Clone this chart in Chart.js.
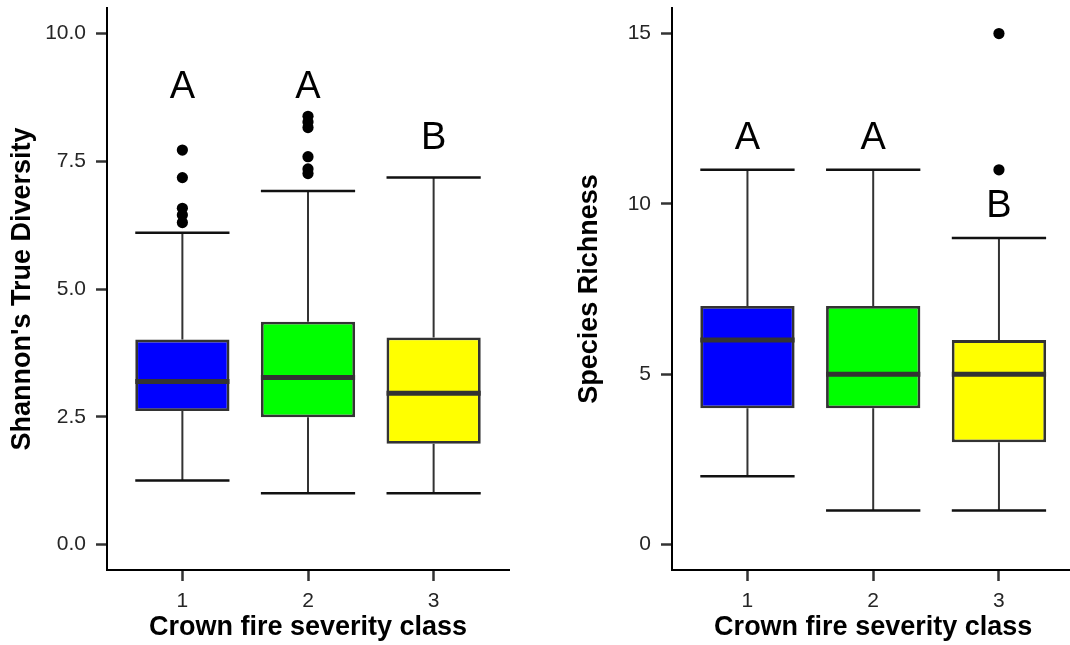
<!DOCTYPE html>
<html>
<head>
<meta charset="utf-8">
<script src="https://cdn.jsdelivr.net/npm/chart.js@4.4.1/dist/chart.umd.min.js"></script>
<style>
  html, body { margin: 0; padding: 0; background: #fff; width: 1070px; height: 645px; overflow: hidden; }
  .panel { position: absolute; top: 0; }
  #panelLeft { left: 0; }
  #panelRight { left: 535px; }
</style>
</head>
<body>
<div class="panel" id="panelLeft"><canvas id="shannon" width="535" height="645"></canvas></div>
<div class="panel" id="panelRight"><canvas id="richness" width="545" height="645"></canvas></div>
<script>
// Crown fire severity classes (x positions)
const classes = [1, 2, 3];
const classLabels = ['1', '2', '3'];
const boxFills = ['#0000FF', '#00FF00', '#FFFF00'];

// Shannon's true diversity: five-number summaries per class
const shLow    = [1.25, 1.00, 1.00];
const shQ1     = [2.61, 2.49, 1.97];
const shMedian = [3.19, 3.27, 2.96];
const shQ3     = [4.01, 4.36, 4.05];
const shHigh   = [6.10, 6.92, 7.18];
const shOutliers = [
  [7.72, 7.18, 6.58, 6.45, 6.30],
  [8.38, 8.27, 8.16, 7.59, 7.35, 7.26],
  []
];
const shLetters  = ['A', 'A', 'B'];
const shLetterAt = [9.0, 9.0, 8.0];
const shTicks      = [0, 2.5, 5, 7.5, 10];
const shTickLabels = ['0.0', '2.5', '5.0', '7.5', '10.0'];

// Species richness: five-number summaries per class
const spLow    = [2, 1, 1];
const spQ1     = [4, 4, 3];
const spMedian = [6, 5, 5];
const spQ3     = [7, 7, 6];
const spHigh   = [11, 11, 9];
const spOutliers = [[], [], [11, 15]];
const spLetters  = ['A', 'A', 'B'];
const spLetterAt = [12, 12, 10];
const spTicks      = [0, 5, 10, 15];
const spTickLabels = ['0', '5', '10', '15'];

const FONT = '"Liberation Sans", Arial, Helvetica, sans-serif';
const HALF = 0.375; // half of the box width, in x units
const LETTER_SIZE = 38;

// draws the significance letters above each box, centred on their value
const letterPlugin = {
  id: 'groupLetters',
  afterDatasetsDraw(chart, args, opts) {
    const { ctx } = chart;
    const xs = chart.scales.x, ys = chart.scales.y;
    ctx.save();
    ctx.font = LETTER_SIZE + 'px ' + FONT;
    ctx.fillStyle = '#000';
    ctx.textAlign = 'center';
    ctx.textBaseline = 'alphabetic';
    const halfCap = LETTER_SIZE * 0.358;
    opts.letters.forEach((t, i) => {
      ctx.fillText(t, xs.getPixelForValue(classes[i]), ys.getPixelForValue(opts.at[i]) + halfCap);
    });
    ctx.restore();
  }
};

// list of line segments separated by gaps
function segments(list) {
  const out = [];
  list.forEach(([x1, y1, x2, y2]) => {
    out.push({ x: x1, y: y1 }, { x: x2, y: y2 }, { x: x2, y: null });
  });
  return out;
}

// keep the axis from reserving room for overhanging edge labels
function noEdgePadding(sc) {
  sc.paddingTop = 0; sc.paddingBottom = 0; sc.paddingLeft = 0; sc.paddingRight = 0;
}

function boxplotChart(canvasId, s) {
  const whiskers = segments(classes.flatMap((c, i) => [
    [c, s.low[i], c, s.q1[i]],
    [c, s.q3[i], c, s.high[i]]
  ]));
  const caps = segments(classes.flatMap((c, i) => [
    [c - HALF, s.low[i], c + HALF, s.low[i]],
    [c - HALF, s.high[i], c + HALF, s.high[i]]
  ]));
  const medians = segments(classes.map((c, i) => [c - HALF, s.median[i], c + HALF, s.median[i]]));
  const outliers = classes.flatMap((c, i) => s.outliers[i].map(v => ({ x: c, y: v })));

  const lineDs = (data, color, width, order) => ({
    type: 'line', data, borderColor: color, borderWidth: width, pointRadius: 0,
    pointHoverRadius: 0, fill: false, tension: 0, spanGaps: false,
    borderCapStyle: 'butt', order
  });

  return new Chart(document.getElementById(canvasId), {
    type: 'bar',
    data: {
      datasets: [
        lineDs(whiskers, '#333333', 2, 5),
        lineDs(caps, '#111111', 2.5, 4),
        {
          type: 'bar',
          data: classes.map((c, i) => ({ x: c, y: [s.q1[i], s.q3[i]] })),
          backgroundColor: boxFills,
          borderColor: '#333333',
          borderWidth: 2.8,
          borderSkipped: false,
          categoryPercentage: 0.75,
          barPercentage: 1,
          order: 3
        },
        lineDs(medians, '#333333', 5, 2),
        {
          type: 'scatter',
          data: outliers,
          backgroundColor: '#000',
          borderWidth: 0,
          pointRadius: 5.6,
          pointHoverRadius: 5.6,
          order: 1
        }
      ]
    },
    options: {
      responsive: false,
      animation: false,
      events: [],
      layout: { padding: s.padding },
      plugins: {
        legend: { display: false },
        tooltip: { enabled: false },
        groupLetters: { letters: s.letters, at: s.letterAt }
      },
      scales: {
        x: {
          type: 'linear', min: 0.4, max: 3.6, offset: false,
          afterBuildTicks: sc => { sc.ticks = classes.map(v => ({ value: v })); },
          afterFit: sc => { sc.height = s.xAxisHeight; noEdgePadding(sc); },
          border: { display: true, color: '#000', width: 2 },
          grid: { offset: false, drawOnChartArea: false, drawTicks: true, tickLength: 11, tickColor: '#333', tickWidth: 2.5 },
          ticks: {
            color: '#262626', padding: 8, maxRotation: 0, autoSkip: false,
            font: { size: 21, family: FONT },
            callback: v => classLabels[classes.indexOf(v)]
          },
          title: {
            display: true, text: 'Crown fire severity class', color: '#000',
            font: { size: 27, weight: 'bold', family: FONT, lineHeight: 1.2 },
            padding: { top: 0, bottom: 1.5 }
          }
        },
        y: {
          type: 'linear', min: s.yMin, max: s.yMax,
          afterBuildTicks: sc => { sc.ticks = s.ticks.map(v => ({ value: v })); },
          afterFit: sc => { sc.width = s.yAxisWidth; noEdgePadding(sc); },
          border: { display: true, color: '#000', width: 2 },
          grid: { drawOnChartArea: false, drawTicks: true, tickLength: 11, tickColor: '#333', tickWidth: 2.5 },
          ticks: {
            color: '#262626', padding: 10, autoSkip: false,
            font: { size: 21, family: FONT },
            callback: v => s.tickLabels[s.ticks.indexOf(v)]
          },
          title: {
            display: true, text: s.title, color: '#000',
            font: { size: 27, weight: 'bold', family: FONT, lineHeight: 1.2 },
            padding: { top: s.titlePad, bottom: 0 }
          }
        }
      }
    },
    plugins: [letterPlugin]
  });
}

boxplotChart('shannon', {
  low: shLow, q1: shQ1, median: shMedian, q3: shQ3, high: shHigh, outliers: shOutliers,
  letters: shLetters, letterAt: shLetterAt, ticks: shTicks, tickLabels: shTickLabels,
  yMin: -0.5, yMax: 10.5, title: "Shannon's True Diversity",
  padding: { left: 0, right: 26, top: 8, bottom: 0 },
  yAxisWidth: 107, xAxisHeight: 75, titlePad: 6.3
});

boxplotChart('richness', {
  low: spLow, q1: spQ1, median: spMedian, q3: spQ3, high: spHigh, outliers: spOutliers,
  letters: spLetters, letterAt: spLetterAt, ticks: spTicks, tickLabels: spTickLabels,
  yMin: -0.75, yMax: 15.75, title: 'Species Richness',
  padding: { left: 0, right: 5, top: 8, bottom: 0 },
  yAxisWidth: 137, xAxisHeight: 75, titlePad: 38.8
});
</script>
</body>
</html>
